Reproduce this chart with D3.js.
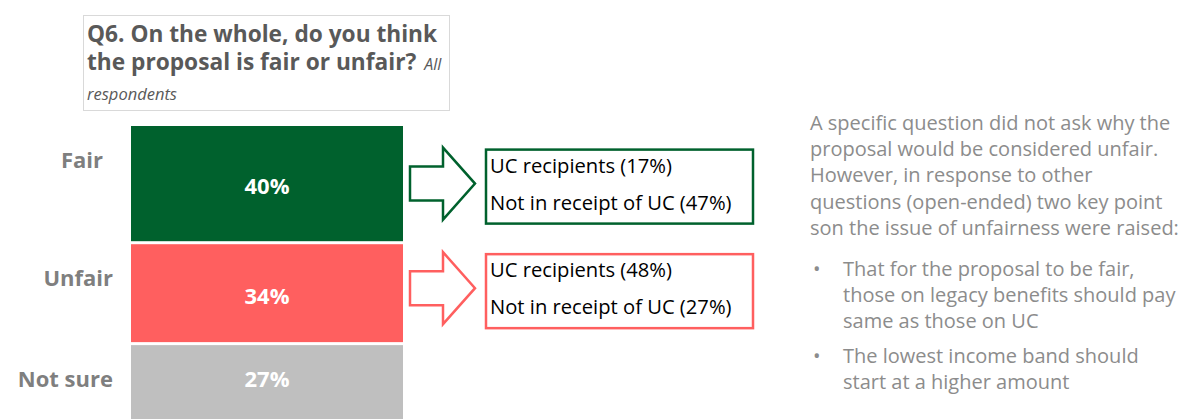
<!DOCTYPE html>
<html>
<head>
<meta charset="utf-8">
<script src="https://cdn.jsdelivr.net/npm/d3@7"></script>
<style>
  body { margin: 0; background: #fff; }
  svg { display: block; font-family: "Open Sans", Lato, sans-serif; }
</style>
</head>
<body>
<svg id="chart" width="1180" height="419"></svg>
<script>
// data
var categories = ["Fair", "Unfair", "Not sure"];
var values = [40, 34, 27];
var barColors = ["#00612d", "#ff5f5f", "#bfbfbf"];
var splitLabels = ["UC recipients", "Not in receipt of UC"];
var ucRecipients = [17, 48];   // Fair, Unfair
var notUC = [47, 27];          // Fair, Unfair
var titleLines = ["Q6. On the whole, do you think", "the proposal is fair or unfair?"];
var noteLines = [
  "A specific question did not ask why the",
  "proposal would be considered unfair.",
  "However, in response to other",
  "questions (open-ended) two key point",
  "son the issue of unfairness were raised:"
];
var bullets = [
  ["That for the proposal to be fair,", "those on legacy benefits should pay", "same as those on UC"],
  ["The lowest income band should", "start at a higher amount"]
];

var svg = d3.select("#chart"),
    barLeft = 131, barRight = 403,
    top0 = 126, gap = 3,
    grey = "#7f7f7f";

// stacked positions
var starts = [];
values.reduce(function (acc, v) { starts.push(acc); return acc + v; }, 0);

var y = d3.scaleLinear().domain([0, 1]).range([0, 2.88]);

function barTop(i) { return top0 + y(starts[i]) + i * gap; }
function barMid(i) { return barTop(i) + y(values[i]) / 2; }

// title box
svg.append("rect")
  .attr("x", 83.5).attr("y", 15.5).attr("width", 366).attr("height", 95)
  .attr("fill", "none").attr("stroke", "#d9d9d9");

var tt = svg.selectAll("text.title").data(titleLines).enter().append("text")
  .attr("class", "title")
  .attr("x", 87).attr("y", function (d, i) { return 42 + i * 28; })
  .attr("fill", "#595959").attr("font-size", 22.7).attr("font-weight", "bold")
  .text(function (d) { return d; });
tt.filter(function (d, i) { return i === 1; }).append("tspan")
  .attr("dx", 8).attr("font-size", 16).attr("font-weight", "normal").attr("font-style", "italic")
  .text("All");
svg.append("text").attr("x", 87).attr("y", 100)
  .attr("fill", "#595959").attr("font-size", 16.5).attr("font-style", "italic")
  .text("respondents");

// bars
var g = svg.append("g");
g.selectAll("rect").data(values).enter().append("rect")
  .attr("x", barLeft).attr("width", barRight - barLeft)
  .attr("y", function (d, i) { return barTop(i); })
  .attr("height", function (d) { return y(d); })
  .attr("fill", function (d, i) { return barColors[i]; });

g.selectAll("text.val").data(values).enter().append("text")
  .attr("class", "val")
  .attr("x", (barLeft + barRight) / 2)
  .attr("y", function (d, i) { return i < 2 ? barMid(i) + 3 : barTop(i) + 34; })
  .attr("dy", "0.35em").attr("text-anchor", "middle")
  .attr("fill", "#fff").attr("font-size", 22).attr("font-weight", "bold")
  .text(function (d) { return d + "%"; });

g.selectAll("text.cat").data(categories).enter().append("text")
  .attr("class", "cat")
  .attr("x", function (d, i) { return i === 0 ? 103 : 113; })
  .attr("y", function (d, i) { return barTop(i) + 34; })
  .attr("dy", "0.35em").attr("text-anchor", "end")
  .attr("fill", grey).attr("font-size", 22).attr("font-weight", "bold")
  .text(function (d) { return d; });

// arrows + breakdown boxes for Fair / Unfair
ucRecipients.forEach(function (v, i) {
  var c = barMid(i) + (i === 0 ? 0 : -5),
      col = i === 0 ? "#00612d" : "#ff5f5f",
      x0 = 410, xn = 443, xt = 475, sh = 17, hh = 36;
  var pts = [[x0, c - sh], [xn, c - sh], [xn, c - hh], [xt, c], [xn, c + hh], [xn, c + sh], [x0, c + sh]];
  svg.append("path")
    .attr("d", d3.line()(pts) + "Z")
    .attr("fill", "none").attr("stroke", col).attr("stroke-width", 2.5);

  var by = c - 34;
  svg.append("rect")
    .attr("x", 486).attr("y", by).attr("width", 267).attr("height", 74)
    .attr("fill", "#fff").attr("stroke", col).attr("stroke-width", 2.5);

  svg.append("text").attr("x", 490).attr("y", by + 23)
    .attr("fill", "#000").attr("font-size", 20.2)
    .text(splitLabels[0] + " (" + v + "%)");
  svg.append("text").attr("x", 490).attr("y", by + 60)
    .attr("fill", "#000").attr("font-size", 20.2)
    .text(splitLabels[1] + " (" + notUC[i] + "%)");
});

// commentary on the right
var noteCol = "#8c8c8c";
svg.selectAll("text.note").data(noteLines).enter().append("text")
  .attr("class", "note")
  .attr("x", 810).attr("y", function (d, i) { return 130 + i * 26.2; })
  .attr("fill", noteCol).attr("font-size", 20)
  .text(function (d) { return d; });

var by0 = [276, 363];
bullets.forEach(function (lines, b) {
  svg.append("text").attr("x", 813).attr("y", by0[b])
    .attr("fill", noteCol).attr("font-size", 20).text("\u2022");
  lines.forEach(function (t, j) {
    svg.append("text").attr("x", 843).attr("y", by0[b] + j * 26.2)
      .attr("fill", noteCol).attr("font-size", 20).text(t);
  });
});
</script>
</body>
</html>
